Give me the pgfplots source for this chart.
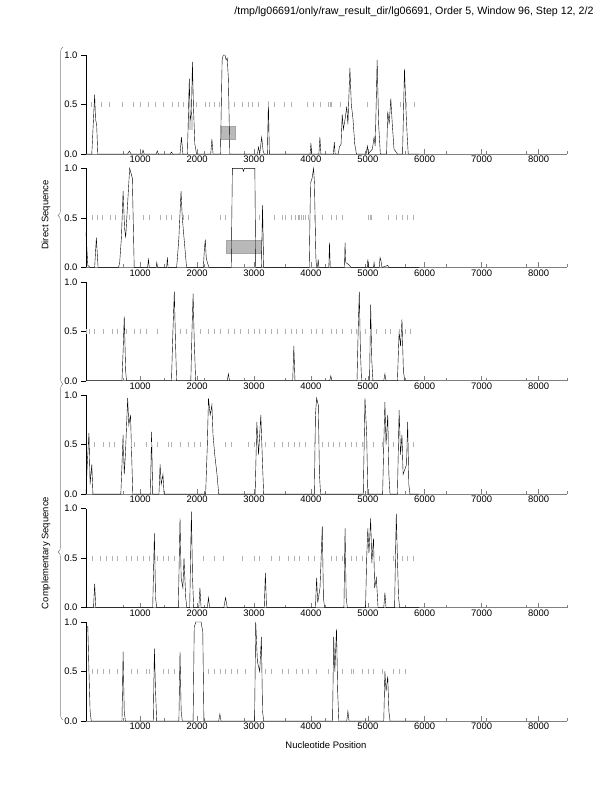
\documentclass[border=0pt]{standalone}
\usepackage{fontspec}
\setmainfont{Liberation Sans}
\usepackage{pgfplots}
\pgfplotsset{compat=1.18}
\usetikzlibrary{decorations.pathreplacing}

\pgfplotsset{
  panel/.style={
    scale only axis, width=481bp, height=99bp,
    anchor=south west,
    xmin=48, xmax=8500, ymin=0, ymax=1,
    axis x line*=bottom, axis y line*=left,
    axis line style={-},
    x axis line style={gray, line width=0.8bp},
    y axis line style={black, line width=0.5bp},
    xtick={1000,2000,...,8000},
    minor xtick={708.3,1416.7,2125,2833.3,3541.7,4250,4958.3,5666.7,6375,7083.3,7791.7,8500},
    ytick={0,0.5,1},
    yticklabel style={/pgf/number format/.cd, fixed, fixed zerofill, precision=1},
    xticklabel style={/pgf/number format/.cd, set thousands separator={}},
    /pgf/number format/assume math mode=true,
    tick label style={font=\fontsize{9.5}{11}\selectfont},
    x tick style={gray, line width=0.6bp},
    y tick style={black, line width=0.5bp},
    xtick align=inside, ytick align=outside,
    major tick length=5bp, minor tick length=3bp,
    xtick pos=bottom, ytick pos=left,
    xticklabel shift=-1.5bp,
    clip=false,
  },
  curve/.style={black, line width=0.4bp},
  stops/.style={gray!60, only marks, mark=|, mark size=2.5bp, mark options={line width=0.4bp}},
  genebox/.style={fill=gray!55, draw=gray!70, line width=0.3bp},
}

\begin{document}
\begin{tikzpicture}[x=1bp,y=1bp]
\useasboundingbox (0,0) rectangle (612,792);

\node[anchor=base east, font=\fontsize{10.7}{13}\selectfont] at (597,777) {/tmp/lg06691/only/raw\_result\_dir/lg06691, Order 5, Window 96, Step 12, 2/2};

% ---------- panel 1
\begin{axis}[panel, at={(86bp,638bp)}]
\addplot[genebox] coordinates {(2430,0.15) (2670,0.15) (2670,0.28) (2430,0.28)} -- cycle;
\addplot[fill=gray!35, draw=none] coordinates {(1845,0.24) (1925,0.24) (1925,0.38) (1845,0.38)} -- cycle;
\addplot[stops] coordinates {
(144,0.5) (322,0.5) (459,0.5) (678,0.5) (870,0.5) (1007,0.5) (1144,0.5) (1260,0.5)
(1397,0.5) (1568,0.5) (1671,0.5) (1760,0.5) (1863,0.5) (1979,0.5) (2144,0.5) (2219,0.5)
(2308,0.5) (2390,0.5) (2651,0.5) (2801,0.5) (2890,0.5) (2973,0.5) (3075,0.5) (3247,0.5)
(3349,0.5) (3534,0.5) (3658,0.5) (3932,0.5) (4034,0.5) (4171,0.5) (4295,0.5) (4342,0.5)
(4350,0.5) (4514,0.5) (4993,0.5) (5404,0.5) (5575,0.5) (5678,0.5) (5815,0.5)};
\addplot[curve] coordinates {
(48,0) (150,0) (175,0.3) (200,0.6) (215,0.35) (235,0.3) (255,0) (780,0) (810,0.03) (840,0)
(1030,0) (1050,0.04) (1070,0) (1280,0) (1300,0.03) (1320,0) (1530,0) (1550,0.02) (1570,0)
(1700,0) (1725,0.17) (1750,0) (1830,0) (1863,0.76) (1880,0.35) (1900,0.4) (1918,0.93)
(1935,0.5) (1960,0.1) (1990,0) (2240,0) (2260,0.15) (2280,0) (2410,0) (2440,0.95) (2460,1.0)
(2490,1.0) (2510,0.95) (2530,0.97) (2550,0.75) (2575,0) (3060,0) (3080,0.07) (3100,0)
(3110,0.05) (3135,0.17) (3160,0.03) (3180,0) (3235,0) (3253,0.53) (3270,0) (3985,0)
(4000,0.11) (4015,0) (4140,0) (4158,0.17) (4175,0) (4395,0) (4411,0.12) (4425,0) (4480,0)
(4500,0.07) (4530,0.1) (4550,0.4) (4570,0.25) (4600,0.35) (4630,0.48) (4650,0.3) (4685,0.87)
(4710,0.5) (4740,0.35) (4770,0.1) (4800,0) (4970,0) (4993,0.08) (5010,0) (5080,0.05)
(5110,0.17) (5130,0.08) (5164,0.95) (5190,0.3) (5220,0) (5330,0) (5350,0.43) (5375,0.3)
(5404,0.56) (5430,0.3) (5460,0.05) (5520,0) (5610,0) (5644,0.86) (5670,0.45) (5690,0.2)
(5710,0) (5900,0)};
\end{axis}

% ---------- panel 2
\begin{axis}[panel, at={(86bp,524.6bp)}]
\addplot[genebox] coordinates {(2510,0.14) (3120,0.14) (3120,0.28) (2510,0.28)} -- cycle;
\addplot[stops] coordinates {
(150,0.5) (240,0.5) (330,0.5) (470,0.5) (560,0.5) (800,0.5) (1050,0.5) (1150,0.5)
(1350,0.5) (1450,0.5) (1550,0.5) (1750,0.5) (1850,0.5) (2400,0.5) (2500,0.5) (3100,0.5)
(3350,0.5) (3500,0.5) (3550,0.5) (3650,0.5) (3720,0.5) (3770,0.5) (3800,0.5) (3830,0.5)
(3860,0.5) (3900,0.5) (3960,0.5) (4050,0.5) (4200,0.5) (4350,0.5) (4450,0.5) (4550,0.5)
(5000,0.5) (5040,0.5) (5060,0.5) (5350,0.5) (5500,0.5) (5600,0.5) (5700,0.5) (5800,0.5)};
\addplot[curve] coordinates {
(48,0.35) (80,0.02) (120,0) (200,0) (230,0.3) (260,0) (620,0) (640,0.05) (670,0.3) (700,0.77)
(725,0.4) (745,0.3) (775,0.6) (815,1.0) (840,0.95) (862,0.9) (895,0) (1130,0) (1146,0.08)
(1160,0) (1280,0) (1292,0.05) (1305,0) (1465,0) (1478,0.1) (1490,0) (1640,0) (1655,0.1)
(1680,0.3) (1718,0.77) (1740,0.5) (1770,0.3) (1815,0) (2110,0) (2130,0.2) (2145,0.28)
(2160,0.1) (2180,0.05) (2210,0) (2600,0) (2620,1.0) (2800,1.0) (2815,0.97) (2830,1.0)
(3015,1.0) (3030,0) (3130,0) (3150,0.63) (3170,0) (3970,0) (3993,0.85) (4020,0.9)
(4047,1.0) (4062,0.85) (4087,0.1) (4100,0) (4115,0) (4128,0.08) (4140,0) (4315,0)
(4326,0.25) (4340,0) (4590,0) (4600,0.25) (4612,0.05) (4680,0.02) (4700,0) (4990,0)
(5000,0.08) (5015,0) (5100,0) (5110,0.05) (5120,0) (5200,0) (5215,0.1) (5230,0.07)
(5250,0) (5350,0.02) (5370,0) (5900,0)};
\end{axis}

% ---------- panel 3
\begin{axis}[panel, at={(86bp,411.2bp)}]
\addplot[stops] coordinates {
(50,0.5) (100,0.5) (200,0.5) (350,0.5) (500,0.5) (600,0.5) (750,0.5) (900,0.5) (1000,0.5)
(1100,0.5) (1300,0.5) (1700,0.5) (1800,0.5) (2050,0.5) (2200,0.5) (2300,0.5) (2400,0.5)
(2550,0.5) (2650,0.5) (2750,0.5) (2900,0.5) (3000,0.5) (3100,0.5) (3200,0.5) (3300,0.5)
(3400,0.5) (3550,0.5) (3650,0.5) (3750,0.5) (3850,0.5) (4000,0.5) (4100,0.5) (4200,0.5)
(4350,0.5) (4450,0.5) (4550,0.5) (4700,0.5) (4800,0.5) (4950,0.5) (5050,0.5) (5150,0.5)
(5300,0.5) (5400,0.5) (5550,0.5) (5650,0.5) (5750,0.5)};
\addplot[curve] coordinates {
(48,0) (680,0) (700,0.3) (720,0.65) (745,0.1) (760,0) (1550,0) (1575,0.5) (1600,0.9)
(1620,0.4) (1640,0) (1890,0) (1910,0.5) (1930,0.88) (1950,0.4) (1975,0) (2530,0) (2550,0.07)
(2570,0) (3680,0) (3700,0.35) (3720,0) (4330,0) (4350,0.05) (4370,0) (4810,0) (4830,0.5)
(4850,0.9) (4870,0.3) (4890,0) (5030,0) (5050,0.77) (5070,0.2) (5090,0) (5280,0) (5300,0.07)
(5320,0) (5520,0) (5550,0.5) (5575,0.35) (5600,0.62) (5625,0.1) (5650,0) (5900,0)};
\end{axis}

% ---------- panel 4
\begin{axis}[panel, at={(86bp,297.8bp)}]
\addplot[stops] coordinates {
(100,0.5) (200,0.5) (350,0.5) (450,0.5) (550,0.5) (700,0.5) (850,0.5) (900,0.5) (1100,0.5)
(1200,0.5) (1300,0.5) (1500,0.5) (1550,0.5) (1700,0.5) (1850,0.5) (1950,0.5) (2050,0.5)
(2500,0.5) (2600,0.5) (2900,0.5) (3000,0.5) (3200,0.5) (3350,0.5) (3500,0.5) (3600,0.5)
(3700,0.5) (3800,0.5) (3900,0.5) (4050,0.5) (4200,0.5) (4300,0.5) (4400,0.5) (4500,0.5)
(4600,0.5) (4700,0.5) (4800,0.5) (4900,0.5) (5100,0.5) (5250,0.5) (5350,0.5) (5450,0.5)
(5700,0.5) (5800,0.5)};
\addplot[curve] coordinates {
(48,0) (70,0.3) (100,0.62) (120,0.1) (150,0.3) (170,0) (660,0) (680,0.3) (700,0.6) (720,0.2)
(740,0.4) (780,0.97) (800,0.7) (830,0.8) (850,0.4) (870,0) (1180,0) (1200,0.63) (1220,0)
(1330,0) (1350,0.3) (1370,0.1) (1400,0.2) (1420,0) (2150,0) (2180,0.5) (2200,0.97)
(2230,0.8) (2260,0.9) (2280,0.6) (2310,0.4) (2350,0.2) (2380,0) (3020,0) (3050,0.73)
(3080,0.4) (3120,0.8) (3150,0.3) (3170,0) (4060,0) (4080,0.8) (4100,0.97) (4130,0.9)
(4150,0.2) (4170,0) (4920,0) (4950,0.97) (4980,0.6) (5000,0) (5260,0) (5280,0.5) (5300,0.93)
(5320,0.5) (5350,0.8) (5370,0.2) (5390,0) (5520,0) (5550,0.85) (5575,0.4) (5600,0.6)
(5620,0.2) (5680,0.3) (5700,0.73) (5720,0.1) (5740,0) (5900,0)};
\end{axis}

% ---------- panel 5
\begin{axis}[panel, at={(86bp,184.4bp)}]
\addplot[stops] coordinates {
(150,0.5) (300,0.5) (400,0.5) (500,0.5) (600,0.5) (750,0.5) (850,0.5) (950,0.5) (1050,0.5)
(1150,0.5) (1300,0.5) (1400,0.5) (1500,0.5) (1600,0.5) (2100,0.5) (2300,0.5) (2450,0.5)
(2800,0.5) (3000,0.5) (3100,0.5) (3300,0.5) (3450,0.5) (3600,0.5) (3700,0.5) (3800,0.5)
(3950,0.5) (4050,0.5) (4350,0.5) (4450,0.5) (4550,0.5) (4700,0.5) (4800,0.5) (4900,0.5)
(5200,0.5) (5450,0.5) (5600,0.5) (5700,0.5) (5800,0.5)};
\addplot[curve] coordinates {
(48,0) (180,0) (200,0.24) (220,0) (1220,0) (1250,0.75) (1270,0.1) (1290,0) (1670,0)
(1700,0.9) (1720,0.3) (1750,0.2) (1770,0.5) (1800,0.1) (1820,0) (1870,0) (1900,0.97)
(1920,0.3) (1940,0) (2030,0) (2050,0.2) (2070,0) (2180,0) (2200,0.1) (2220,0) (2470,0)
(2500,0.1) (2530,0) (3180,0) (3200,0.35) (3220,0) (4080,0) (4100,0.3) (4120,0.05)
(4160,0.2) (4200,0.82) (4220,0.1) (4240,0) (4580,0) (4600,0.8) (4620,0.1) (4640,0)
(4960,0) (4980,0.5) (5000,0.8) (5020,0.55) (5050,0.9) (5070,0.45) (5100,0.7) (5120,0.2)
(5150,0.3) (5180,0) (5280,0) (5300,0.15) (5320,0) (5470,0) (5500,0.95) (5520,0.5)
(5540,0.1) (5560,0) (5900,0)};
\end{axis}

% ---------- panel 6
\begin{axis}[panel, at={(86bp,71bp)}]
\addplot[stops] coordinates {
(150,0.5) (250,0.5) (350,0.5) (450,0.5) (600,0.5) (850,0.5) (950,0.5) (1100,0.5) (1150,0.5)
(1400,0.5) (1500,0.5) (1600,0.5) (2200,0.5) (2300,0.5) (2400,0.5) (2500,0.5) (2600,0.5)
(2700,0.5) (2850,0.5) (3200,0.5) (3300,0.5) (3500,0.5) (3600,0.5) (3750,0.5) (3850,0.5)
(3950,0.5) (4100,0.5) (4300,0.5) (4550,0.5) (4700,0.5) (4750,0.5) (4900,0.5) (5000,0.5)
(5100,0.5) (5250,0.5) (5450,0.5) (5550,0.5) (5650,0.5)};
\addplot[curve] coordinates {
(48,1.0) (65,0.95) (80,0.95) (100,0.5) (120,0.1) (140,0) (680,0) (700,0.7) (720,0.1)
(740,0) (1230,0) (1250,0.73) (1270,0.3) (1290,0) (1680,0) (1700,0.7) (1720,0.1) (1740,0)
(1930,0) (1950,0.95) (1980,1.0) (2070,1.0) (2100,0.9) (2120,0) (2380,0) (2400,0.07) (2420,0)
(3010,0) (3030,1.0) (3060,0.6) (3100,0.5) (3130,0.85) (3150,0.1) (3170,0) (4380,0) (4400,0.85)
(4420,0.5) (4450,0.93) (4470,0.3) (4490,0) (4630,0) (4650,0.1) (4670,0) (5280,0) (5300,0.5)
(5320,0.3) (5350,0.45) (5370,0.1) (5390,0) (5900,0)};
\end{axis}

% ---------- braces and labels
\draw[gray, line width=0.5bp, decorate, decoration={brace, amplitude=5bp}] (63,408) -- (63,745);
\draw[gray, line width=0.5bp, decorate, decoration={brace, amplitude=5bp}] (63,72) -- (63,408);
\node[rotate=90, font=\fontsize{9.5}{11}\selectfont] at (46,577) {Direct Sequence};
\node[rotate=90, font=\fontsize{9.5}{11}\selectfont] at (46,239) {Complementary Sequence};
\node[font=\fontsize{9.5}{11}\selectfont] at (326,47) {Nucleotide Position};
\end{tikzpicture}
\end{document}
